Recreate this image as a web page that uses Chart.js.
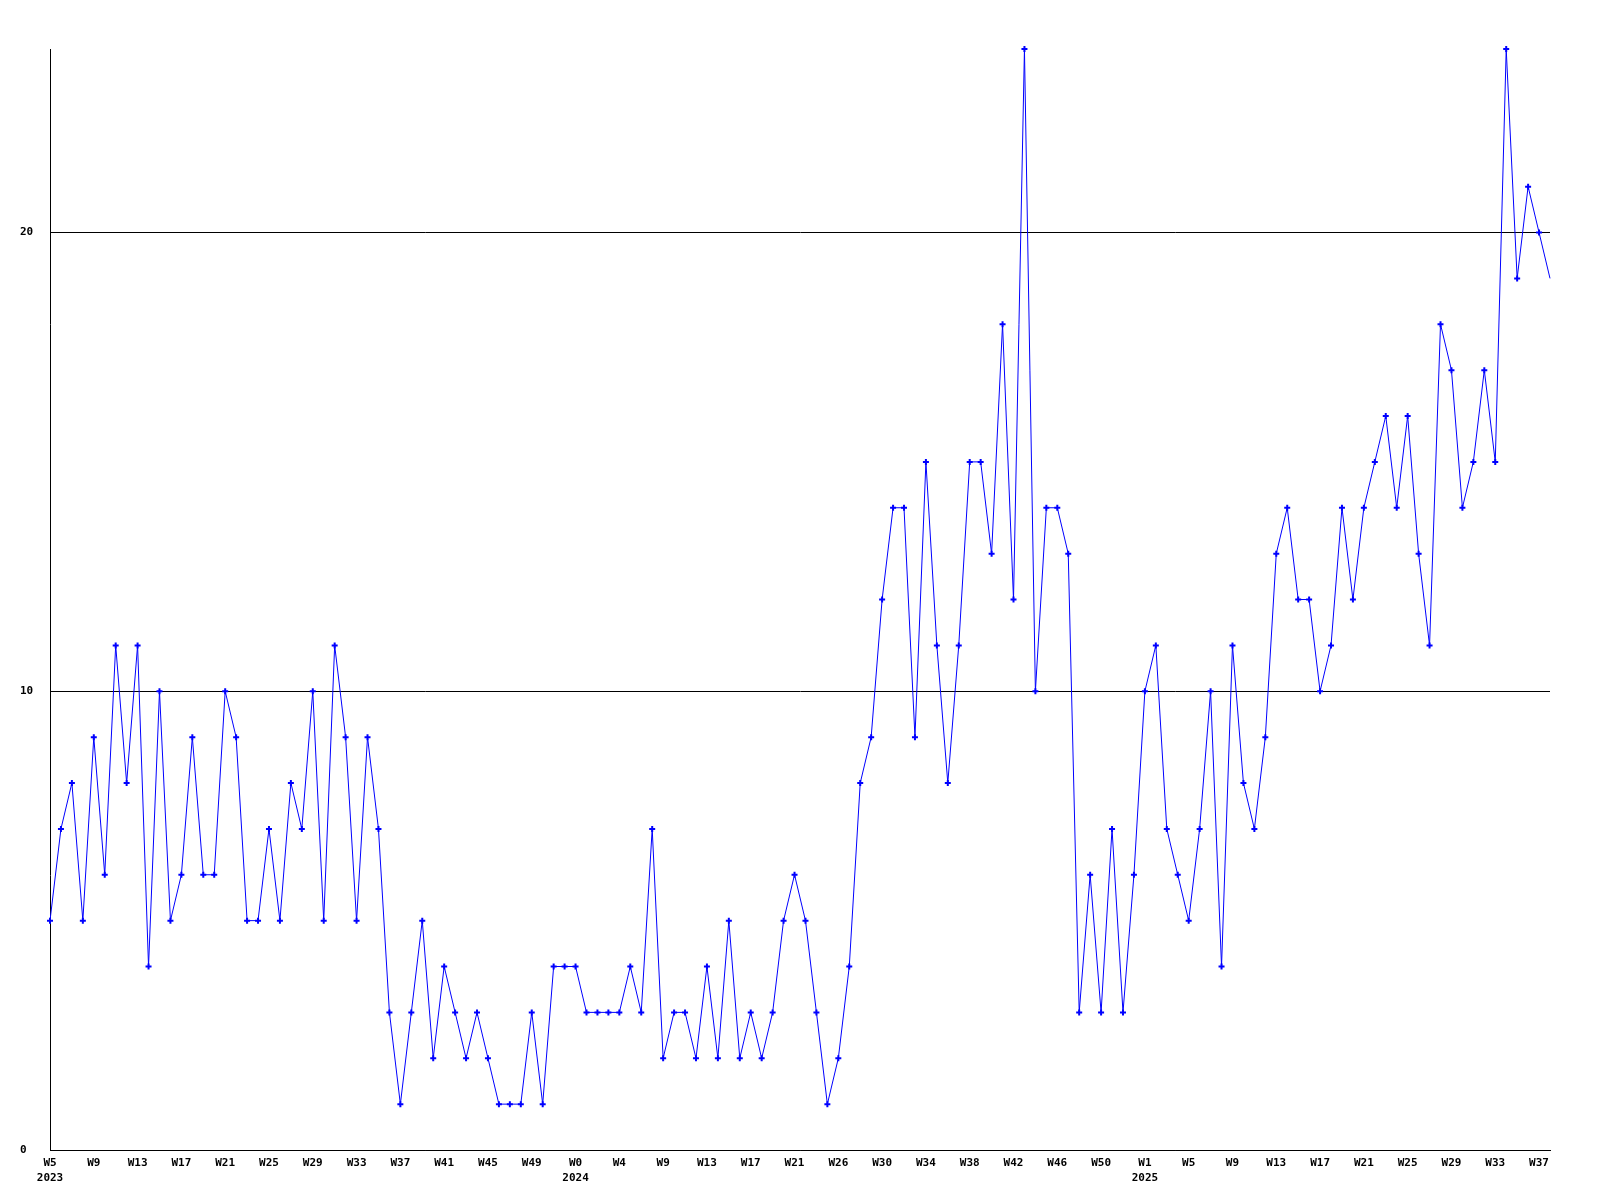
<!DOCTYPE html>
<html>
<head>
<meta charset="utf-8">
<script src="https://cdn.jsdelivr.net/npm/chart.js@4.4.0/dist/chart.umd.min.js"></script>
<style>
html,body{margin:0;padding:0;background:#fff;}
canvas{display:block;}
</style>
</head>
<body>
<canvas id="c" width="1600" height="1200"></canvas>
<script>
// Weekly values, from W5 2023 to W38 2025
const values = [
  5,7,8,5,9,6,11,8,11,4,
  10,5,6,9,6,6,10,9,5,5,
  7,5,8,7,10,5,11,9,5,9,
  7,3,1,3,5,2,4,3,2,3,
  2,1,1,1,3,1,4,4,4,3,
  3,3,3,4,3,7,2,3,3,2,
  4,2,5,2,3,2,3,5,6,5,
  3,1,2,4,8,9,12,14,14,9,
  15,11,8,11,15,15,13,18,12,24,
  10,14,14,13,3,6,3,7,3,6,
  10,11,7,6,5,7,10,4,11,8,
  7,9,13,14,12,12,10,11,14,12,
  14,15,16,14,16,13,11,18,17,14,
  15,17,15,24,19,21,20,19
];
// Tick labels shown on the x axis (every 4th week)
const tickLabels = [
  'W5','W9','W13','W17','W21','W25','W29','W33','W37','W41','W45','W49',
  'W0','W4','W9','W13','W17','W21','W26','W30','W34','W38','W42','W46','W50',
  'W1','W5','W9','W13','W17','W21','W25','W29','W33','W37'
];
const yearLabels = ['2023','2024','2025'];
const yearTickIndex = [0, 12, 25];
const tickStep = 4;
const yTickValues = [0, 10, 20];
const yMax = 24;

const categories = values.map((v, i) => (i % tickStep === 0) ? tickLabels[i / tickStep] : '');

const FONT = { family: 'DejaVu Sans Mono', size: 11, weight: 'bold', lineHeight: 1.41 };

new Chart(document.getElementById('c'), {
  type: 'line',
  data: {
    labels: categories,
    datasets: [{
      data: values,
      borderColor: '#0000ff',
      backgroundColor: '#0000ff',
      borderWidth: 1,
      tension: 0,
      fill: false,
      pointStyle: 'cross',
      pointRadius: (ctx) => ctx.dataIndex === values.length - 1 ? 0 : 3,
      pointBorderWidth: 2,
      pointBorderColor: '#0000ff',
      pointHoverRadius: 3,
      clip: false
    }]
  },
  options: {
    responsive: false,
    animation: false,
    events: [],
    layout: { padding: { left: 20, top: 49, right: 50, bottom: 0 } },
    plugins: { legend: { display: false }, tooltip: { enabled: false }, title: { display: false } },
    scales: {
      x: {
        type: 'category',
        offset: false,
        grid: { display: false, drawTicks: false },
        border: { display: true, color: '#000', width: 1 },
        afterFit: (s) => { s.height = 50; },
        ticks: {
          autoSkip: false,
          maxRotation: 0,
          minRotation: 0,
          padding: 5,
          color: '#000',
          font: FONT,
          callback: function(value, index) {
            if (index % tickStep !== 0) return null;
            const k = index / tickStep;
            const yi = yearTickIndex.indexOf(k);
            return yi >= 0 ? [tickLabels[k], yearLabels[yi]] : tickLabels[k];
          }
        }
      },
      y: {
        min: 0,
        max: yMax,
        afterBuildTicks: (s) => { s.ticks = yTickValues.map(v => ({ value: v })); },
        afterFit: (s) => { s.width = 30; },
        grid: { color: '#000', lineWidth: 1, drawTicks: false },
        border: { display: true, color: '#000', width: 1 },
        ticks: {
          crossAlign: 'far',
          padding: 0,
          color: '#000',
          font: FONT
        }
      }
    }
  }
});
</script>
</body>
</html>
